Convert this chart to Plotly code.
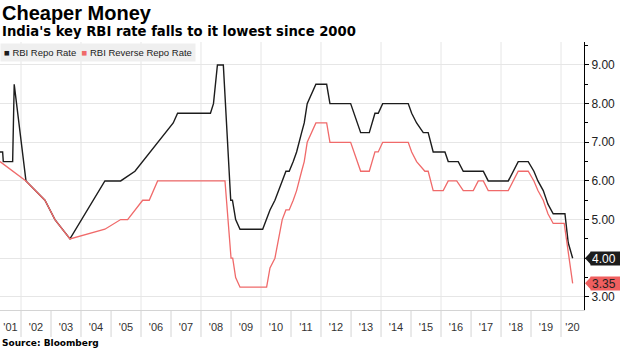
import pandas as pd
import plotly.graph_objects as go

# RBI policy rates (%), sampled at rate-change points
repo_dates = [
    "2001-04-20", "2001-05-22", "2001-05-30", "2001-09-21", "2001-10-10",
    "2002-03-02", "2002-10-19", "2003-02-18", "2003-08-20", "2004-10-18",
    "2005-04-28", "2005-10-19", "2007-01-28", "2007-03-22", "2008-04-25",
    "2008-06-01", "2008-07-19", "2008-09-29", "2008-12-28", "2009-01-18",
    "2009-02-26", "2009-04-20", "2010-01-21", "2010-03-10", "2010-04-20",
    "2010-06-19", "2010-07-29", "2010-09-16", "2010-10-31", "2010-12-10",
    "2011-01-28", "2011-03-10", "2011-05-10", "2011-06-11", "2011-07-17",
    "2011-09-06", "2011-10-31", "2012-03-10", "2012-04-19", "2012-12-27",
    "2013-04-28", "2013-08-11", "2013-10-19", "2013-11-28", "2014-01-21",
    "2014-11-28", "2015-01-09", "2015-03-10", "2015-05-30", "2015-07-29",
    "2015-09-28", "2016-02-18", "2016-03-29", "2016-07-29", "2016-09-28",
    "2017-05-30", "2017-07-29", "2018-03-30", "2018-07-29", "2018-11-28",
    "2019-02-05", "2019-03-26", "2019-05-30", "2019-07-26", "2019-09-28",
    "2020-02-18", "2020-03-29", "2020-05-22",
]
repo_rate = [
    6.75, 6.75, 6.5, 6.5, 8.5,
    6.0, 5.5, 5.0, 4.5, 6.0,
    6.0, 6.25, 7.5, 7.75, 7.75,
    8.0, 9.0, 9.0, 5.5, 5.5,
    5.0, 4.75, 4.75, 5.0, 5.25,
    5.5, 5.75, 6.0, 6.25, 6.25,
    6.5, 6.75, 7.25, 7.5, 8.0,
    8.25, 8.5, 8.5, 8.0, 8.0,
    7.25, 7.25, 7.75, 7.75, 8.0,
    8.0, 7.75, 7.5, 7.25, 7.25,
    6.75, 6.75, 6.5, 6.5, 6.25,
    6.25, 6.0, 6.0, 6.5, 6.5,
    6.25, 6.0, 5.75, 5.4, 5.15,
    5.15, 4.4, 4.0,
]

reverse_dates = [
    "2001-04-20", "2002-03-02", "2002-10-19", "2003-02-18", "2003-08-20",
    "2004-10-18", "2005-04-28", "2005-07-22", "2006-01-21", "2006-04-11",
    "2006-07-22", "2008-10-19", "2009-01-01", "2009-01-21", "2009-02-26",
    "2009-04-20", "2010-03-10", "2010-04-20", "2010-06-19", "2010-07-29",
    "2010-09-16", "2010-10-31", "2010-12-10", "2011-01-28", "2011-03-10",
    "2011-05-10", "2011-06-11", "2011-07-17", "2011-09-06", "2011-10-31",
    "2012-03-10", "2012-04-19", "2012-12-27", "2013-04-28", "2013-08-11",
    "2013-10-19", "2013-11-28", "2014-01-21", "2014-11-28", "2015-01-09",
    "2015-03-10", "2015-06-19", "2015-07-29", "2015-09-28", "2016-01-28",
    "2016-03-29", "2016-07-10", "2016-09-28", "2017-01-28", "2017-03-30",
    "2017-05-30", "2017-07-29", "2018-03-30", "2018-07-29", "2018-11-28",
    "2019-02-05", "2019-03-26", "2019-05-30", "2019-07-26", "2019-09-28",
    "2020-02-09", "2020-05-22",
]
reverse_rate = [
    6.5, 6.0, 5.5, 5.0, 4.5,
    4.75, 5.0, 5.0, 5.5, 5.5,
    6.0, 6.0, 4.0, 4.0, 3.5,
    3.25, 3.25, 3.75, 4.0, 4.5,
    5.0, 5.25, 5.25, 5.5, 5.75,
    6.25, 6.5, 7.0, 7.25, 7.5,
    7.5, 7.0, 7.0, 6.25, 6.25,
    6.75, 6.75, 7.0, 7.0, 6.75,
    6.5, 6.25, 6.25, 5.75, 5.75,
    6.0, 6.0, 5.75, 5.75, 6.0,
    6.0, 5.75, 5.75, 6.25, 6.25,
    6.0, 5.75, 5.5, 5.15, 4.9,
    4.9, 3.35,
]

series_names = ["RBI Repo Rate", "RBI Reverse Repo Rate"]
label_years = list(range(2001, 2021))
year_labels = ["'" + str(y)[2:] for y in label_years]
y_ticks = [3, 4, 5, 6, 7, 8, 9]

X_START, X_END = pd.Timestamp("2001-04-20"), pd.Timestamp("2020-10-07")

# each year label sits in the middle of the visible part of that year
label_pos = []
for y in label_years:
    a = max(pd.Timestamp(f"{y}-01-01"), X_START)
    b = min(pd.Timestamp(f"{y + 1}-01-01"), X_END)
    label_pos.append((a + (b - a) / 2).strftime("%Y-%m-%d"))

BLACK = "#1c1c1c"
RED = "#f06a6a"
LABEL_RED = "#ef5f5f"
GRID = "#e6e6e6"
SEP = "#d4d4d4"

W, H = 620, 348
M_T, M_B, M_L, M_R = 42, 38, 0, 36
plot_h = H - M_T - M_B

fig = go.Figure()
fig.add_trace(go.Scatter(x=repo_dates, y=repo_rate, mode="lines",
                         name=series_names[0],
                         line=dict(color=BLACK, width=1.4), showlegend=False))
fig.add_trace(go.Scatter(x=reverse_dates, y=reverse_rate, mode="lines",
                         name=series_names[1],
                         line=dict(color=RED, width=1.3), showlegend=False))

shapes = []
for yr in label_years[1:]:
    # vertical grid every other year
    if yr % 2 == 0:
        shapes.append(dict(type="line", xref="x", yref="paper",
                           x0=f"{yr}-01-01", x1=f"{yr}-01-01", y0=0, y1=1,
                           line=dict(color=GRID, width=1), layer="below"))
    # year separators under the axis
    shapes.append(dict(type="line", xref="x", yref="paper",
                       x0=f"{yr}-01-01", x1=f"{yr}-01-01", y0=0,
                       y1=-27 / plot_h, line=dict(color=SEP, width=1)))

# last-value tags on the right axis
last_vals = [(repo_rate[-1], BLACK, "white"), (reverse_rate[-1], LABEL_RED, "#222222")]
annotations = []
for val, bg, fg in last_vals:
    shapes.append(dict(type="path", xref="paper", yref="y",
                       xsizemode="pixel", ysizemode="pixel",
                       xanchor=1, yanchor=val,
                       path="M 1,0 L 7,6.5 L 7,-6.5 Z",
                       fillcolor=bg, line=dict(width=0)))
    annotations.append(dict(xref="paper", yref="y", x=1, y=val,
                            xanchor="left", yanchor="middle", xshift=6,
                            text=f"{val:.2f}", showarrow=False,
                            bgcolor=bg, borderpad=1, width=28, height=11,
                            align="left",
                            font=dict(family="Liberation Sans", size=12, color=fg)))

# titles and source
annotations.append(dict(xref="paper", yref="paper", x=0, y=1, xanchor="left",
                        yanchor="bottom", yshift=M_T - 26, showarrow=False,
                        text="<b>Cheaper Money</b>",
                        font=dict(family="Liberation Sans", size=20, color="#000")))
annotations.append(dict(xref="paper", yref="paper", x=0, y=1, xanchor="left",
                        yanchor="bottom", yshift=M_T - 41, showarrow=False,
                        text="<b>India's key RBI rate falls to it lowest since 2000</b>",
                        font=dict(family="DejaVu Sans", size=13.2, color="#000")))
annotations.append(dict(xref="paper", yref="paper", x=0, y=0, xanchor="left",
                        yanchor="top", yshift=-26, showarrow=False,
                        text="<b>Source: Bloomberg</b>",
                        font=dict(family="DejaVu Sans", size=9, color="#000")))

# legend strip
legend_text = (f"<span style='color:{BLACK}'>■</span> {series_names[0]}  "
               f"<span style='color:{RED}'>■</span> {series_names[1]}")
annotations.append(dict(xref="paper", yref="paper", x=0, y=1, xanchor="left",
                        yanchor="top", yshift=-1, showarrow=False,
                        text=legend_text, bgcolor="#efefef", borderpad=3,
                        font=dict(family="Liberation Sans", size=9.5, color="#222")))

fig.update_layout(
    width=W, height=H,
    margin=dict(t=M_T, b=M_B, l=M_L, r=M_R, pad=0),
    paper_bgcolor="white", plot_bgcolor="white",
    shapes=shapes, annotations=annotations,
    xaxis=dict(type="date", range=[X_START.strftime("%Y-%m-%d"), X_END.strftime("%Y-%m-%d")],
               tickvals=label_pos, ticktext=year_labels,
               ticks="", showgrid=False, ticklabeloverflow="allow",
               showline=True, linecolor=SEP, linewidth=1,
               ticklabelstandoff=7,
               tickfont=dict(family="Liberation Sans", size=11, color="#333")),
    yaxis=dict(side="right", range=[2.66, 9.595], tickvals=y_ticks,
               tickformat=".2f", ticks="outside", ticklen=4, tickcolor="#000",
               showline=True, linecolor="#000", linewidth=1,
               gridcolor=GRID, zeroline=False,
               minor=dict(dtick=0.5, ticks="outside", ticklen=3,
                          tickcolor="#000", showgrid=False),
               tickfont=dict(family="Liberation Sans", size=12, color="#222")),
)

fig.write_html("out.html")
